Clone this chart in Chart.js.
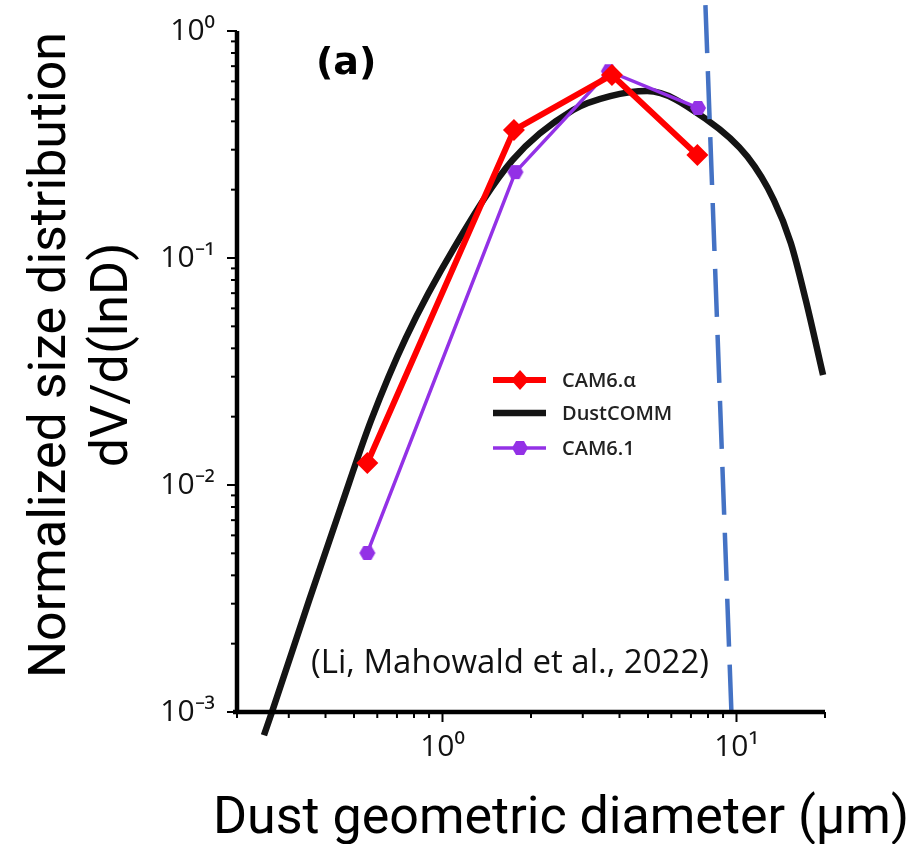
<!DOCTYPE html>
<html>
<head>
<meta charset="utf-8">
<script src="https://cdn.jsdelivr.net/npm/chart.js@4.4.1/dist/chart.umd.min.js"></script>
<style>
  html, body { margin: 0; padding: 0; background: #fff; }
  #wrap { width: 923px; height: 844px; }
</style>
</head>
<body>
<div id="wrap"><canvas id="sizeDist"></canvas></div>
<script>
// model bins: diameter (um) and normalized dV/dlnD
const cam6AlphaDiameters = [0.555, 1.75, 3.77, 7.36];
const cam6AlphaValues = [0.0125, 0.366, 0.64, 0.284];
const cam61Diameters = [0.555, 1.77, 3.68, 7.4];
const cam61Values = [0.00502, 0.239, 0.665, 0.458];

// DustCOMM constrained distribution
const dustcommDiameters = [0.247, 0.263, 0.352, 0.45, 0.572, 0.75, 1.1, 1.73, 2.78, 3.72, 4.97, 7.96, 10.9, 13.4, 15.3, 17.2, 19.7];
const dustcommValues = [0.00079, 0.001, 0.00311, 0.00792, 0.0193, 0.0444, 0.112, 0.27, 0.449, 0.517, 0.544, 0.405, 0.279, 0.18, 0.1165, 0.0653, 0.0305];

// 10 um cut-off (dashed)
const cutoffDiameters = [7.84, 9.61];
const cutoffValues = [1.3, 0.001];

const xTickValues = [1, 10];
const xTickLabels = ['10⁰', '10¹'];
const yTickValues = [0.001, 0.01, 0.1, 1];
const yTickLabels = ['10⁻³', '10⁻²', '10⁻¹', '10⁰'];

function toPoints(xs, ys) {
  return xs.map((x, i) => ({ x: x, y: ys[i] }));
}

function sameDecade(v, list) {
  return list.findIndex(t => Math.abs(Math.log10(v) - Math.log10(t)) < 1e-6);
}

// 1..9 x 10^n between min and max
function logTicks(min, max) {
  const out = [];
  for (let e = Math.floor(Math.log10(min)); e <= Math.ceil(Math.log10(max)); e++) {
    for (let m = 1; m < 10; m++) {
      const v = m * Math.pow(10, e);
      if (v >= min * 0.999 && v <= max * 1.001) out.push({ value: v });
    }
  }
  return out;
}

function hexagon(r, color) {
  const c = document.createElement('canvas');
  c.width = c.height = Math.ceil(r * 2 + 2);
  const g = c.getContext('2d');
  const m = c.width / 2;
  g.fillStyle = color;
  g.beginPath();
  for (let i = 0; i < 6; i++) {
    const a = Math.PI / 3 * i;
    g.lineTo(m + r * Math.cos(a), m + r * Math.sin(a));
  }
  g.closePath();
  g.fill();
  return c;
}

const PURPLE = '#9331e6';
const hexMark = hexagon(8, PURPLE);

// axis lines and tick marks (major ticks longer)
const axisMarks = {
  id: 'axisMarks',
  afterDraw(chart) {
    const ctx = chart.ctx;
    const a = chart.chartArea;
    const xs = chart.scales.x, ys = chart.scales.y;
    ctx.save();
    ctx.strokeStyle = '#000';
    ctx.lineWidth = 2;
    xs.ticks.forEach(t => {
      const px = xs.getPixelForValue(t.value);
      const len = sameDecade(t.value, xTickValues) >= 0 ? 10 : 6;
      ctx.beginPath(); ctx.moveTo(px, a.bottom); ctx.lineTo(px, a.bottom + len); ctx.stroke();
    });
    ys.ticks.forEach(t => {
      const py = ys.getPixelForValue(t.value);
      const len = sameDecade(t.value, yTickValues) >= 0 ? 10 : 6;
      ctx.beginPath(); ctx.moveTo(a.left, py); ctx.lineTo(a.left - len, py); ctx.stroke();
    });
    ctx.lineWidth = 4.5;
    ctx.beginPath();
    ctx.moveTo(a.left, a.top);
    ctx.lineTo(a.left, a.bottom);
    ctx.moveTo(a.left - 4, a.bottom);
    ctx.lineTo(a.right, a.bottom);
    ctx.stroke();
    ctx.restore();
  }
};

// axis titles, panel letter, citation and legend
const annotations = {
  id: 'annotations',
  afterDraw(chart) {
    const ctx = chart.ctx;
    ctx.save();
    ctx.fillStyle = '#000';

    ctx.font = '52px Roboto';
    ctx.textAlign = 'center';
    ctx.textBaseline = 'alphabetic';
    ctx.fillText('Dust geometric diameter (µm)', 561, 833);

    ctx.save();
    ctx.translate(65, 355);
    ctx.rotate(-Math.PI / 2);
    ctx.fillText('Normalized size distribution', 0, 0);
    ctx.fillText('dV/d(lnD)', 0, 62);
    ctx.restore();

    ctx.font = 'bold 38px "DejaVu Sans"';
    ctx.textAlign = 'left';
    ctx.textBaseline = 'middle';
    ctx.fillText('(a)', 316, 64);

    ctx.font = '33px "Open Sans"';
    ctx.fillStyle = '#111';
    ctx.fillText('(Li, Mahowald et al., 2022)', 311, 664);

    // legend
    const rows = [
      { ds: chart.data.datasets[1], y: 380, mark: 'diamond' },
      { ds: chart.data.datasets[3], y: 413, mark: null },
      { ds: chart.data.datasets[2], y: 448, mark: 'hex' }
    ];
    rows.forEach(r => {
      ctx.strokeStyle = r.ds.borderColor;
      ctx.lineWidth = r.ds.borderWidth;
      ctx.beginPath(); ctx.moveTo(493, r.y); ctx.lineTo(546, r.y); ctx.stroke();
      if (r.mark === 'diamond') {
        ctx.fillStyle = r.ds.borderColor;
        ctx.beginPath();
        ctx.moveTo(520, r.y - 10); ctx.lineTo(529, r.y); ctx.lineTo(520, r.y + 10); ctx.lineTo(511, r.y);
        ctx.closePath(); ctx.fill();
      } else if (r.mark === 'hex') {
        ctx.drawImage(hexMark, 520 - hexMark.width / 2, r.y - hexMark.height / 2);
      }
      ctx.fillStyle = '#222';
      ctx.font = '600 20px "Open Sans"';
      ctx.textAlign = 'left';
      ctx.textBaseline = 'middle';
      ctx.fillText(r.ds.label, 562, r.y + 1);
    });
    ctx.restore();
  }
};

new Chart(document.getElementById('sizeDist').getContext('2d'), {
  type: 'line',
  data: {
    datasets: [
      {
        label: 'cutoff',
        data: toPoints(cutoffDiameters, cutoffValues),
        borderColor: '#4472c4',
        borderWidth: 4.5,
        borderDash: [48, 18],
        pointRadius: 0,
        clip: false
      },
      {
        label: 'CAM6.α',
        data: toPoints(cam6AlphaDiameters, cam6AlphaValues),
        borderColor: '#ff0000',
        backgroundColor: '#ff0000',
        borderWidth: 6,
        pointStyle: 'rectRot',
        pointRadius: 11,
        pointBorderWidth: 0,
        tension: 0
      },
      {
        label: 'CAM6.1',
        data: toPoints(cam61Diameters, cam61Values),
        borderColor: PURPLE,
        backgroundColor: PURPLE,
        borderWidth: 3.5,
        pointStyle: hexMark,
        pointRadius: 8,
        tension: 0
      },
      {
        label: 'DustCOMM',
        data: toPoints(dustcommDiameters, dustcommValues),
        borderColor: '#141414',
        borderWidth: 6.5,
        pointRadius: 0,
        cubicInterpolationMode: 'monotone',
        clip: false
      }
    ]
  },
  options: {
    responsive: true,
    maintainAspectRatio: false,
    animation: false,
    layout: { padding: { top: 31, right: 98, left: 0, bottom: 0 } },
    plugins: { legend: { display: false }, tooltip: { enabled: false } },
    scales: {
      x: {
        type: 'logarithmic',
        min: 0.2,
        max: 20,
        afterBuildTicks: s => { s.ticks = logTicks(0.2, 20); },
        afterFit: s => { s.height = 132; },
        grid: { display: false, drawTicks: true, tickLength: 10 },
        border: { display: false },
        ticks: {
          autoSkip: false,
          maxRotation: 0,
          padding: 7,
          color: '#111',
          font: { family: '"Open Sans"', size: 30 },
          callback: v => { const i = sameDecade(v, xTickValues); return i >= 0 ? xTickLabels[i] : ''; }
        }
      },
      y: {
        type: 'logarithmic',
        min: 0.001,
        max: 1,
        afterBuildTicks: s => { s.ticks = logTicks(0.001, 1); },
        afterFit: s => { s.width = 237; },
        grid: { display: false, drawTicks: true, tickLength: 10 },
        border: { display: false },
        ticks: {
          autoSkip: false,
          padding: 12,
          color: '#111',
          font: { family: '"Open Sans"', size: 30 },
          callback: v => { const i = sameDecade(v, yTickValues); return i >= 0 ? yTickLabels[i] : ''; }
        }
      }
    }
  },
  plugins: [axisMarks, annotations]
});
</script>
</body>
</html>
